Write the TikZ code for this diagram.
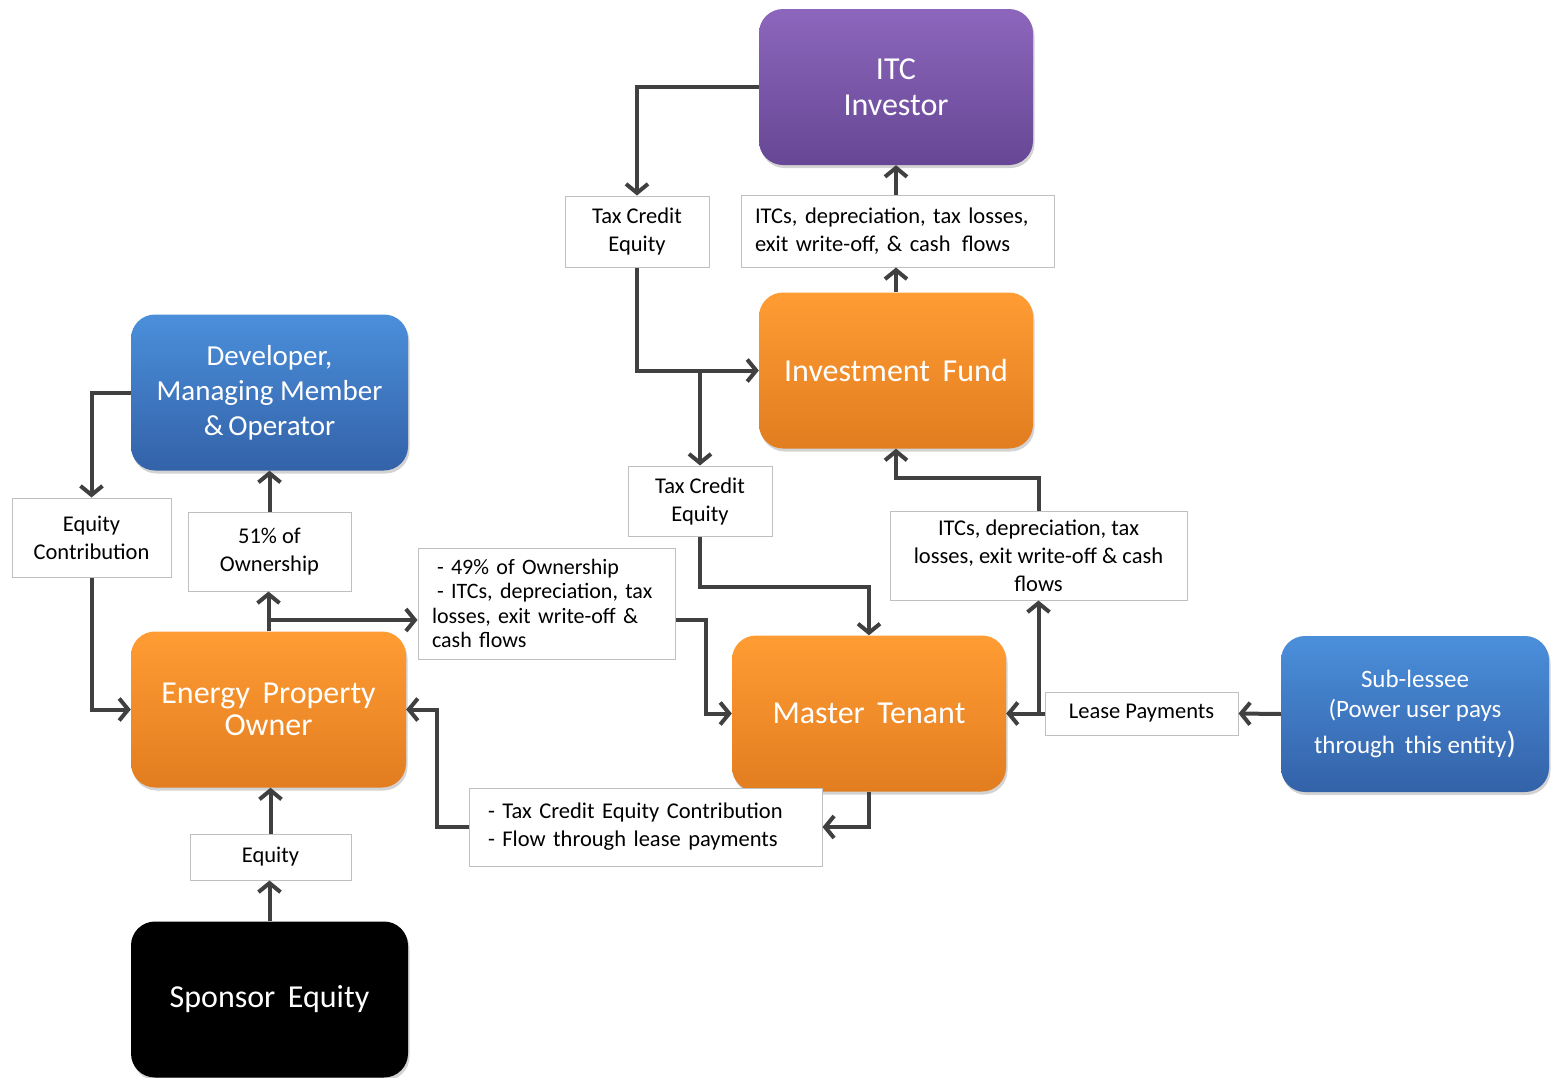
\documentclass[tikz,border=0pt]{standalone}
\usepackage{fontspec}
\setmainfont{Carlito}
\usetikzlibrary{arrows.meta,shadows,calc}
\definecolor{connc}{HTML}{404040}
\definecolor{lblc}{HTML}{BFBFBF}
\definecolor{purT}{HTML}{8C66BC}
\definecolor{purB}{HTML}{674795}
\definecolor{orT}{HTML}{FF9C33}
\definecolor{orB}{HTML}{E27D20}
\definecolor{blT}{HTML}{4B8FDB}
\definecolor{blB}{HTML}{3362A8}
\tikzset{
  bigbox/.style={rounded corners=24pt, inner sep=0pt, text=white, align=center,
    minimum width=#1, minimum height=156pt,
    drop shadow={opacity=0.35, shadow xshift=1.5pt, shadow yshift=-3pt}},
  purbox/.style={bigbox=274pt, top color=purT, bottom color=purB},
  orbox/.style={bigbox=274pt, top color=orT, bottom color=orB},
  blbox/.style={bigbox=#1, top color=blT, bottom color=blB},
  blkbox/.style={bigbox=277pt, fill=black},
  lbl/.style={draw=lblc, fill=white, line width=1pt, inner xsep=0pt, inner ysep=0pt,
    align=center, font=\fontsize{22.5}{28}\selectfont},
  conn/.style={draw=connc, line width=4pt, -{Straight Barb[length=9pt,width=22pt]}},
  plain/.style={draw=connc, line width=4pt}
}
\begin{document}
\begin{tikzpicture}[x=1pt,y=-1pt]
\useasboundingbox (0,0) rectangle (1551,1077);
% big boxes
\node[purbox, font=\fontsize{32}{36}\selectfont] (itc) at (896,87) {ITC\\Investor};
\node[orbox, font=\fontsize{32}{36}\selectfont] (fund) at (896,370.5) {Investment\, Fund};
\node[blbox=277pt, font=\fontsize{29}{35}\selectfont] (dev) at (269.5,392.5) {Developer,\\Managing Member\\\&\,Operator};
\node[orbox, minimum width=275pt, font=\fontsize{32}{32}\selectfont] (epo) at (268.5,709.5) {Energy\, Property\\Owner};
\node[orbox, font=\fontsize{32}{36}\selectfont] (mt) at (869,713.5) {Master\, Tenant};
\node[blbox=268pt, font=\fontsize{25}{30}\selectfont] (sub) at (1415,714) {Sub-lessee\\(Power user pays\\[6pt]through\, this entity{\fontsize{31}{30}\selectfont )}};
\node[blkbox, font=\fontsize{32}{36}\selectfont] (sp) at (269.5,999.5) {Sponsor\, Equity};
% labels
\node[lbl, minimum width=144pt, minimum height=71pt] (tce1) at (637,231.5) {Tax Credit\\Equity};
\node[lbl, minimum width=313pt, minimum height=72pt, text width=285pt, inner xsep=14pt, align=left] (itcs1) at (897.5,231) {ITCs, depreciation, tax losses,\\exit write-off, \& cash\, flows};
\node[lbl, minimum width=144pt, minimum height=70pt] (tce2) at (700,501) {Tax Credit\\Equity};
\node[lbl, minimum width=297pt, minimum height=89pt] (itcs2) at (1038.5,555.5) {ITCs, depreciation, tax\\losses, exit write-off \& cash\\flows};
\node[lbl, minimum width=159pt, minimum height=79pt] (eqc) at (91.5,537.5) {Equity\\Contribution};
\node[lbl, minimum width=163pt, minimum height=79pt] (o51) at (269.5,551.5) {51\% of\\Ownership};
\node[lbl, minimum width=257pt, minimum height=111pt, text width=229pt, inner xsep=14pt, align=left, font=\fontsize{22}{24.6}\selectfont] (p49) at (546.5,603.5) {\hspace*{5pt}- 49\% of Ownership\\\hspace*{5pt}- ITCs, depreciation, tax\\losses, exit write-off \&\\cash flows};
\node[lbl, minimum width=353pt, minimum height=78pt, text width=315pt, inner xsep=19pt, align=left] (tcc) at (645.5,827) {- Tax Credit Equity Contribution\\- Flow through lease payments};
\node[lbl, minimum width=161pt, minimum height=46pt] (eq) at (270.5,857) {Equity};
\node[lbl, minimum width=193pt, minimum height=43pt] (lease) at (1141.5,713.5) {Lease Payments};
\coordinate (b49) at ([yshift=-16.5pt]p49.west);
\coordinate (c49) at ([yshift=-16.5pt]p49.east);
% connectors
\draw[conn] (itc.west) -| (tce1.north);
\draw[conn] (tce1.south) |- (fund.west);
\draw[conn] (tce2.north |- fund.west) -- (tce2.north);
\draw[conn] (fund.north) -- (fund.north |- itcs1.south);
\draw[conn] (itc.south |- itcs1.north) -- (itc.south);
\draw[conn] (tce2.south) -- ++(0,50) -| (mt.north);
\draw[conn] (itcs2.north) -- ++(0,-33) -| (fund.south);
\draw[conn] (lease.west) -- (mt.east);
\draw[conn] (itcs2.south |- mt.east) -- (itcs2.south);
\draw[conn] (sub.west) -- (lease.east);
\draw[conn] (mt.south) |- (tcc.east);
\draw[conn] (tcc.west) -- ++(-32,0) |- (epo.east);
\draw[conn] (c49) -- ++(30,0) |- (mt.west);
\draw[conn] (epo.north) -- (epo.north |- o51.south);
\draw[conn] (epo.north |- b49) -- (b49);
\draw[conn] (o51.north) -- (o51.north |- dev.south);
\draw[conn] (dev.west) -| (eqc.north);
\draw[conn] (eqc.south) |- (epo.west);
\draw[conn] (sp.north) -- (sp.north |- eq.south);
\draw[conn] (eq.north) -- (eq.north |- epo.south);
\end{tikzpicture}
\end{document}
